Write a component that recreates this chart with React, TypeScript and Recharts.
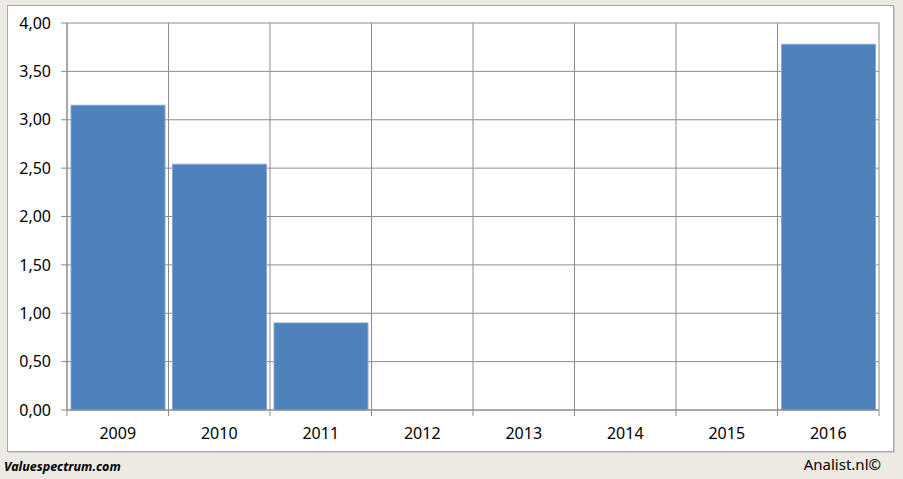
import { BarChart, Bar, XAxis, YAxis, CartesianGrid } from 'recharts';

const years = ['2009', '2010', '2011', '2012', '2013', '2014', '2015', '2016'];
const values = [3.15, 2.54, 0.9, 0, 0, 0, 0, 3.78];
const yTicks = [0, 0.5, 1, 1.5, 2, 2.5, 3, 3.5, 4];

const data = years.map((year, i) => ({ year, value: values[i] }));

const font = '"Noto Sans", sans-serif';
const gridColor = '#8c8c8c';

// label at the band centre, tick marks at the band edges
function YearTick(props: any) {
  const { x, y, payload, index } = props;
  const half = payload.offset ?? 0;
  const isLast = index === years.length - 1;
  return (
    <g>
      <line x1={x - half} y1={y - 15} x2={x - half} y2={y - 9} stroke={gridColor} />
      {isLast && <line x1={x + half} y1={y - 15} x2={x + half} y2={y - 9} stroke={gridColor} />}
      <text x={x} y={y} textAnchor="middle" dominantBaseline="hanging" fill="#000" fontSize={16} fontFamily={font}>
        {payload.value}
      </text>
    </g>
  );
}

export default function App() {
  return (
    <div style={{ position: 'absolute', left: 0, top: 0, width: 903, height: 479, background: '#ECEAE2', fontFamily: font }}>
      <div
        style={{
          position: 'absolute',
          left: 7,
          top: 5,
          width: 885,
          height: 445,
          background: '#fff',
          border: '1px solid #a8a8a8',
          boxShadow: '1px 1px 0 #cfcfcf',
        }}
      />
      <div style={{ position: 'absolute', left: 0, top: 0 }}>
        <BarChart
          width={903}
          height={452}
          data={data}
          margin={{ top: 23, right: 24, bottom: 12, left: 0 }}
          barCategoryGap={4}
        >
          <CartesianGrid
            stroke={gridColor}
            strokeWidth={1}
            verticalCoordinatesGenerator={({ offset }: any) =>
              years.map((_, i) => offset.left + (i * offset.width) / years.length).concat(offset.left + offset.width)
            }
          />
          <XAxis
            dataKey="year"
            tickLine={false}
            axisLine={{ stroke: gridColor }}
            tick={<YearTick />}
            tickSize={6}
            tickMargin={9}
            height={30}
            interval={0}
          />
          <YAxis
            domain={[0, 4]}
            ticks={yTicks}
            width={67}
            tickSize={6}
            tickMargin={10}
            tickLine={{ stroke: gridColor }}
            axisLine={{ stroke: gridColor }}
            tick={{ fill: '#000', fontSize: 16, fontFamily: font }}
            tickFormatter={(v: number) => v.toFixed(2).replace('.', ',')}
            interval={0}
          />
          <Bar dataKey="value" fill="#4F81BD" stroke="#86A7D4" strokeWidth={1} isAnimationActive={false} />
        </BarChart>
      </div>
      <div
        style={{
          position: 'absolute',
          left: 4,
          top: 458,
          fontSize: 12.5,
          fontWeight: 700,
          fontStyle: 'italic',
          color: '#000',
        }}
      >
        Valuespectrum.com
      </div>
      <div style={{ position: 'absolute', right: 22, top: 454, fontSize: 15, color: '#000' }}>
        Analist.nl©
      </div>
    </div>
  );
}
